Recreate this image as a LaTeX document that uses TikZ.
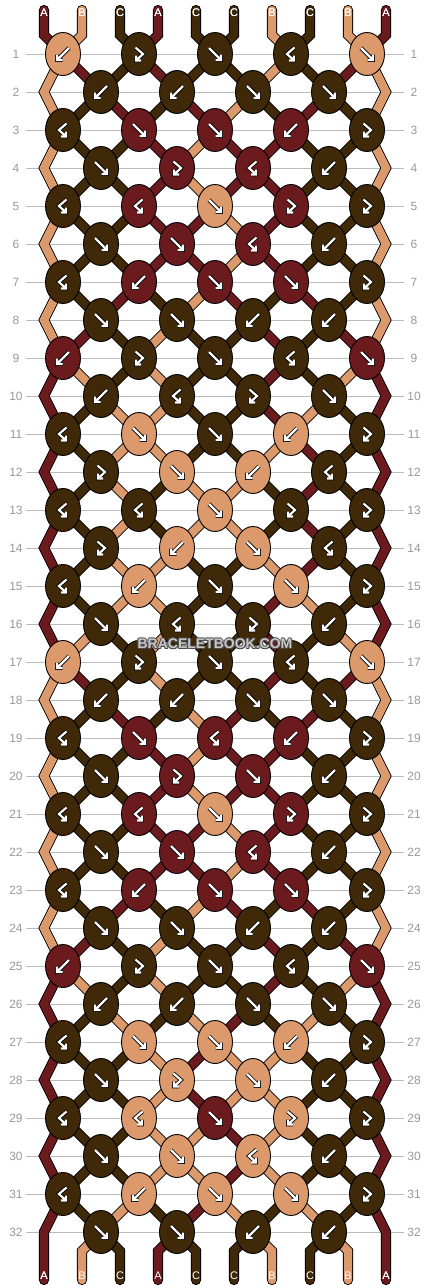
\documentclass[tikz,border=0pt]{standalone}
\usepackage{fontspec}
\setmainfont{Liberation Sans}
\usetikzlibrary{shapes.geometric}
\definecolor{cA}{HTML}{6B1B1E}
\definecolor{cB}{HTML}{DC9A6C}
\definecolor{cC}{HTML}{3F2908}
\definecolor{rowgray}{HTML}{BBBBBB}
\definecolor{numgray}{HTML}{999999}
\newcommand\NX[2]{\pgfmathtruncatemacro\nx{isodd(#1) ? 63+76*int((#2-1)/2) : ((#2)==1 ? 44 : ((#2)==10 ? 386 : 101+76*(int((#2)/2)-1)))}\pgfmathtruncatemacro\ny{54+38*((#1)-1)}}
\newcommand\iconpath[1]{\draw[line width=3.9pt, black, line cap=square, line join=miter] #1; \draw[line width=2.2pt, white, line cap=square, line join=miter] #1;}
\newcommand\iconL{\iconpath{(6,-6)--(-6,6) (-6,0.5)--(-6,6)--(-0.5,6)}}
\newcommand\iconR{\iconpath{(-6,-6)--(6,6) (6,0.5)--(6,6)--(0.5,6)}}
\newcommand\iconF{\iconpath{(-3.5,-6.5)--(4,0)--(-3,6.5) (-3,1.5)--(-3,6.5)--(2,6.5)}}
\newcommand\iconG{\iconpath{(3.5,-6.5)--(-4,0)--(3,6.5) (3,1.5)--(3,6.5)--(-2,6.5)}}
\tikzset{
  strand/.style={draw=black, line width=0.9pt, double=#1, double distance=8.4pt},
  knot/.style={ellipse, draw=black, line width=0.9pt, minimum width=35pt, minimum height=43pt, inner sep=0pt},
  rownum/.style={text=numgray, font=\fontsize{12}{12}\selectfont, inner sep=0pt},
  endlabel/.style={text=white, font=\fontsize{11}{11}\selectfont, inner sep=0pt},
}
\begin{document}
\begin{tikzpicture}[x=1pt,y=-1pt]
\useasboundingbox (0,0) rectangle (430,1288);
\fill[white] (0,0) rectangle (430,1288);
% row guide lines and numbers
\foreach \r in {1,...,32}{
  \pgfmathtruncatemacro\ry{54+38*(\r-1)}
  \draw[rowgray, line width=1pt] (26,\ry) -- (404,\ry);
  \node[rownum] (nl\r) at (16,\ry) {\r};
  \node[rownum] (nr\r) at (414,\ry) {\r};
}
% strands
\foreach \r/\cols in {
 0/{A,B,C,A,C,C,B,C,B,A},
 1/{B,A,C,A,C,C,B,C,A,B},
 2/{B,C,A,C,A,B,C,A,C,B},
 3/{B,C,C,A,B,A,A,C,C,B},
 4/{B,C,C,A,B,A,A,C,C,B},
 5/{B,C,C,A,A,B,A,C,C,B},
 6/{B,C,C,A,A,B,A,C,C,B},
 7/{B,C,A,C,B,A,C,A,C,B},
 8/{B,A,C,B,C,C,A,C,A,B},
 9/{A,B,C,B,C,C,A,C,B,A},
 10/{A,C,B,B,C,C,A,B,C,A},
 11/{A,C,B,B,C,C,B,A,C,A},
 12/{A,C,B,C,B,B,C,A,C,A},
 13/{A,C,B,C,B,B,C,A,C,A},
 14/{A,C,B,B,C,C,B,A,C,A},
 15/{A,C,B,B,C,C,A,B,C,A},
 16/{A,B,C,B,C,C,A,C,B,A},
 17/{B,A,C,B,C,C,A,C,A,B},
 18/{B,C,A,C,B,A,C,A,C,B},
 19/{B,C,C,A,B,A,A,C,C,B},
 20/{B,C,C,A,B,A,A,C,C,B},
 21/{B,C,C,A,A,B,A,C,C,B},
 22/{B,C,C,A,A,B,A,C,C,B},
 23/{B,C,A,C,B,A,C,A,C,B},
 24/{B,A,C,B,C,C,A,C,A,B},
 25/{A,B,C,B,C,C,A,C,B,A},
 26/{A,C,B,C,B,A,C,B,C,A},
 27/{A,C,C,B,A,B,B,C,C,A},
 28/{A,C,C,B,A,B,B,C,C,A},
 29/{A,C,C,B,B,A,B,C,C,A},
 30/{A,C,C,B,B,A,B,C,C,A},
 31/{A,C,B,C,A,B,C,B,C,A},
 32/{A,B,C,A,C,C,B,C,B,A}}{
  \foreach \c [count=\p] in \cols {
    \pgfmathtruncatemacro\xp{44+38*(\p-1)}
    \pgfmathtruncatemacro\isedge{(\p==1 || \p==10) ? 1 : 0}
    \ifnum\r=0\relax
      \NX{1}{\p}
      \draw[strand=c\c, line cap=round] (\xp,10) -- (\xp,35) -- (\nx,\ny);
      \node[endlabel] (t\p) at (\xp,13) {\c};
    \else\ifnum\r=32\relax
      \node[endlabel] (b\p) at (\xp,1276) {\c};
      \ifnum\isedge=0\relax
        \NX{32}{\p}
        \draw[strand=c\c, line cap=round] (\nx,\ny) -- (\xp,1251) -- (\xp,1280);
        \node[endlabel] (bb\p) at (\xp,1276) {\c};
      \fi
    \else
      \ifnum\isedge=1\relax
        \ifodd\r\relax
          \ifnum\r=31\relax
            \NX{31}{\p}\let\xa\nx\let\ya\ny
            \NX{32}{\p}
            \draw[strand=c\c, line cap=round] (\xa,\ya) -- (\nx,\ny) -- (\nx,1280);
            \node[endlabel] (be\p) at (\xp,1276) {\c};
          \else
            \NX{\r}{\p}\let\xa\nx\let\ya\ny
            \NX{\r+1}{\p}\let\xb\nx\let\yb\ny
            \NX{\r+2}{\p}
            \draw[strand=c\c] (\xa,\ya) -- (\xb,\yb) -- (\nx,\ny);
          \fi
        \fi
      \else
        \NX{\r}{\p}\let\xa\nx\let\ya\ny
        \NX{\r+1}{\p}
        \draw[strand=c\c] (\xa,\ya) -- (\nx,\ny);
      \fi
    \fi\fi
  }
}
% top labels redrawn over strands
\foreach \c [count=\p] in {A,B,C,A,C,C,B,C,B,A}{
  \pgfmathtruncatemacro\xp{44+38*(\p-1)}
  \node[endlabel] (tl\p) at (\xp,13) {\c};
}
% knots
\foreach \r/\ks in {
 1/{L/B,F/C,R/C,G/C,R/B},
 2/{L/C,L/C,R/C,R/C},
 3/{G/C,R/A,R/A,L/A,F/C},
 4/{R/C,F/A,G/A,L/C},
 5/{G/C,G/A,R/B,F/A,F/C},
 6/{R/C,R/A,G/A,L/C},
 7/{G/C,L/A,R/A,R/A,F/C},
 8/{R/C,R/C,L/C,L/C},
 9/{L/A,F/C,R/C,G/C,R/A},
 10/{L/C,G/C,F/C,R/C},
 11/{G/C,R/B,R/C,L/B,F/C},
 12/{F/C,R/B,L/B,G/C},
 13/{G/C,G/C,R/B,F/C,F/C},
 14/{F/C,L/B,R/B,G/C},
 15/{G/C,L/B,R/C,R/B,F/C},
 16/{R/C,G/C,F/C,L/C},
 17/{L/B,F/C,R/C,G/C,R/B},
 18/{L/C,L/C,R/C,R/C},
 19/{G/C,R/A,G/A,L/A,F/C},
 20/{R/C,F/A,R/A,L/C},
 21/{G/C,G/A,R/B,F/A,F/C},
 22/{R/C,R/A,G/A,L/C},
 23/{G/C,L/A,R/A,R/A,F/C},
 24/{R/C,R/C,L/C,L/C},
 25/{L/A,F/C,R/C,G/C,R/A},
 26/{L/C,L/C,R/C,R/C},
 27/{G/C,R/B,R/B,L/B,F/C},
 28/{R/C,F/B,R/B,L/C},
 29/{G/C,G/B,R/A,F/B,F/C},
 30/{R/C,R/B,G/B,L/C},
 31/{G/C,L/B,R/B,R/B,F/C},
 32/{R/C,R/C,L/C,L/C}}{
  \pgfmathtruncatemacro\ky{54+38*(\r-1)}
  \foreach \t/\kc [count=\k] in \ks {
    \pgfmathtruncatemacro\kx{isodd(\r) ? 63+76*(\k-1) : 101+76*(\k-1)}
    \node[knot, fill=c\kc] (k\r-\k) at (\kx,\ky) {};
    \begin{scope}[shift={(\kx,\ky)}]
      \csname icon\t\endcsname
    \end{scope}
  }
}
% watermark
\foreach \dx/\dy [count=\i] in {-0.9/0,0.9/0,0/-0.9,0/0.9,-0.7/-0.7,0.7/0.7,-0.7/0.7,0.7/-0.7}{
  \node[font=\fontsize{14}{14}\selectfont\bfseries, text=black!70, inner sep=0pt] (wmo\i) at (215+\dx,644+\dy) {BRACELETBOOK.COM};
}
\node[font=\fontsize{14}{14}\selectfont\bfseries, text=black!22, inner sep=0pt] (wm) at (215,644) {BRACELETBOOK.COM};
\end{tikzpicture}
\end{document}
